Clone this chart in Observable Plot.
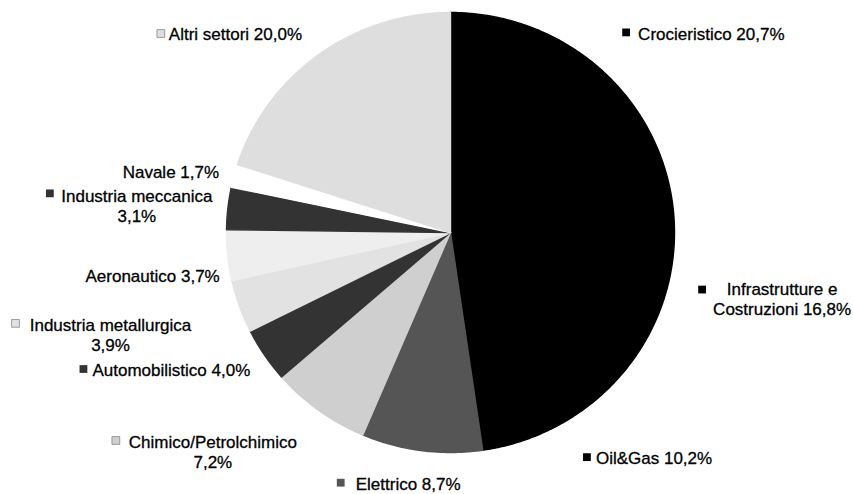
<!DOCTYPE html>
<html>
<head>
<meta charset="utf-8">
<script src="https://cdn.jsdelivr.net/npm/d3@7"></script>
<script src="https://cdn.jsdelivr.net/npm/@observablehq/plot@0.6"></script>
<style>
  html, body { margin: 0; padding: 0; background: #fff; }
  #chart svg { display: block; }
</style>
</head>
<body>
<div id="chart"></div>
<script>
// ---- data ----
const sectors = [
  "Crocieristico",
  "Infrastrutture e Costruzioni",
  "Oil&Gas",
  "Elettrico",
  "Chimico/Petrolchimico",
  "Automobilistico",
  "Industria metallurgica",
  "Aeronautico",
  "Industria meccanica",
  "Navale",
  "Altri settori"
];
const shares = [20.7, 16.8, 10.2, 8.7, 7.2, 4.0, 3.9, 3.7, 3.1, 1.7, 20.0];

// ---- styles (grey tones approximating the scanned dithering) ----
const shades = ["#000000", "#000000", "#000000", "#555555", "#cfcfcf",
                "#333333", "#e2e2e2", "#eeeeee", "#333333", "#ffffff", "#dedede"];

// ---- label layout: offsets (px) from the slice's outer edge at its mid-angle ----
const labelLayout = [
  {dx: 52,   dy: -24, anchor: "start",  breakBefore: null,          mdx: 40,   mdy: -25},
  {dx: 115,  dy: 10,  anchor: "middle", breakBefore: "Costruzioni", mdx: 35,   mdy: 1},
  {dx: 45,   dy: 28,  anchor: "start",  breakBefore: null,          mdx: 36,   mdy: 28},
  {dx: -66,  dy: 33,  anchor: "start",  breakBefore: null,          mdx: -81,  mdy: 32},
  {dx: -106, dy: 41,  anchor: "middle", breakBefore: "%",           mdx: -203, mdy: 30},
  {dx: -172, dy: 15,  anchor: "start",  breakBefore: null,          mdx: -181, mdy: 14},
  {dx: -129, dy: 28,  anchor: "middle", breakBefore: "%",           mdx: -224, mdy: 17},
  {dx: -8,   dy: 20,  anchor: "end",    breakBefore: null,          mdx: null, mdy: null},
  {dx: -91,  dy: -3,  anchor: "middle", breakBefore: "%",           mdx: -178, mdy: -15},
  {dx: -15,  dy: -4,  anchor: "end",    breakBefore: null,          mdx: null, mdy: null},
  {dx: -150, dy: -21, anchor: "start",  breakBefore: null,          mdx: -158, mdy: -21}
];

// ---- geometry of the frame ----
const W = 853, H = 494;
const cx = 450, cy = 232, rx = 224, ry = 220;
const xDomain = [-cx / rx, (W - cx) / rx];
const yDomain = [-(H - cy) / ry, cy / ry];

const arcs = d3.pie().sort(null).value(d => d)(shares);

const fmt = v => v.toFixed(1).replace(".", ",") + "%";

const marks = [];
arcs.forEach((a, i) => {
  const pts = [{x: 0, y: 0}];
  const n = Math.max(2, Math.ceil((a.endAngle - a.startAngle) / (Math.PI / 360)));
  for (let k = 0; k <= n; k++) {
    const t = a.startAngle + (a.endAngle - a.startAngle) * k / n;
    pts.push({x: Math.sin(t), y: Math.cos(t)});
  }
  pts.push({x: 0, y: 0});
  marks.push(Plot.line(pts, {
    x: "x", y: "y", fill: shades[i], stroke: shades[i], strokeWidth: 1.4,
    strokeLinejoin: "round", curve: "linear"
  }));
});

arcs.forEach((a, i) => {
  const mid = (a.startAngle + a.endAngle) / 2;
  const edge = [{x: Math.sin(mid), y: Math.cos(mid)}];
  const L = labelLayout[i];
  let label;
  if (L.breakBefore === "%") label = sectors[i] + "\n" + fmt(shares[i]);
  else if (L.breakBefore) label = (sectors[i] + " " + fmt(shares[i])).replace(" " + L.breakBefore, "\n" + L.breakBefore);
  else label = sectors[i] + " " + fmt(shares[i]);
  marks.push(Plot.text(edge, {
    x: "x", y: "y", text: () => label, dx: L.dx, dy: L.dy,
    textAnchor: L.anchor, lineAnchor: "middle", lineHeight: 1.18,
    fontSize: 17, fill: "#000", stroke: "#000", strokeWidth: 0.3
  }));
  if (L.mdx !== null) {
    const light = ["#cfcfcf", "#e2e2e2", "#dedede"].includes(shades[i]);
    marks.push(Plot.dot(edge, {
      x: "x", y: "y", dx: L.mdx, dy: L.mdy, symbol: "square", r: 4.4,
      fill: shades[i], stroke: light ? "#888" : shades[i], strokeWidth: light ? 0.8 : 0
    }));
  }
});

const chart = Plot.plot({
  width: W,
  height: H,
  margin: 0,
  x: {domain: xDomain, axis: null},
  y: {domain: yDomain, axis: null},
  style: {fontFamily: "'Liberation Sans', Arial, sans-serif", background: "#fff"},
  marks
});
document.getElementById("chart").appendChild(chart);
</script>
</body>
</html>
